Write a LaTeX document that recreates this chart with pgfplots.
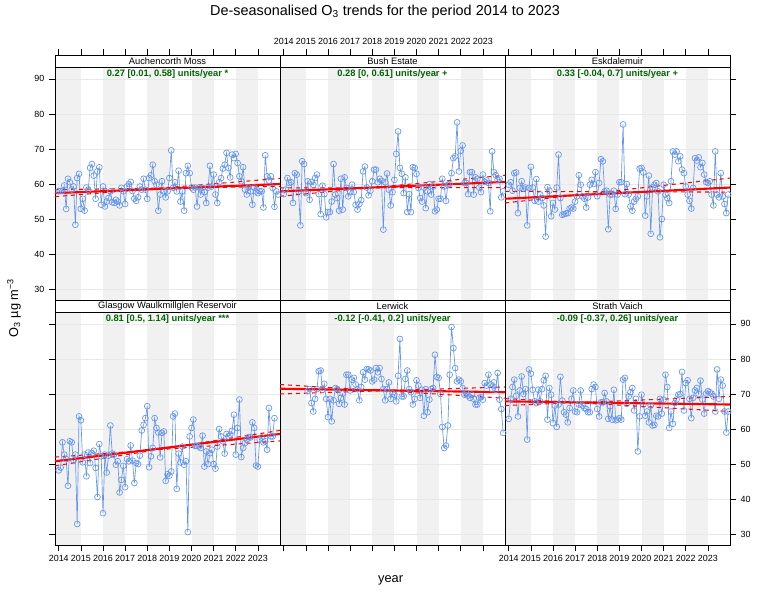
\documentclass[border=0pt]{standalone}
\usepackage{fontspec}
\setmainfont{Liberation Sans}
\usepackage{pgfplots}
\pgfplotsset{compat=1.18}
\usepackage{pgfplotstable}

\definecolor{cfblue}{RGB}{100,149,237}
\definecolor{dgreen}{RGB}{0,100,0}

% monthly de-seasonalised O3, m = months since Jan 2014
\pgfplotstableread{
m am be ek gw lw sv
0 58.0 57.1 59.8 48.2 nan 62.9
1 58.0 58.4 60.5 49.0 nan 68.6
2 58.0 61.7 58.1 56.2 nan 72.0
3 59.6 60.3 63.1 52.7 nan 74.1
4 52.9 60.5 63.3 51.4 nan 69.5
5 61.5 54.6 51.7 43.8 nan 63.6
6 60.5 63.1 58.9 56.5 nan 71.0
7 58.4 62.7 60.8 56.2 nan 75.0
8 59.3 57.9 58.7 51.0 nan 70.0
9 48.4 48.2 59.0 52.7 nan 71.4
10 61.7 66.5 48.2 32.9 nan 57.0
11 62.9 65.7 58.9 63.6 nan 77.0
12 52.9 57.4 64.9 62.5 nan 75.8
13 55.8 60.8 59.0 50.5 70.8 71.2
14 52.4 55.5 55.2 52.7 71.4 67.9
15 59.0 60.6 61.4 46.5 67.4 67.4
16 58.4 59.8 55.0 53.3 65.0 71.2
17 64.6 61.7 57.0 50.3 68.6 67.9
18 65.7 62.7 56.0 53.1 71.4 71.4
19 62.4 57.1 53.9 53.8 76.5 73.9
20 55.8 51.4 45.0 48.9 76.7 75.2
21 63.6 59.5 59.1 40.6 71.2 62.7
22 64.8 57.1 58.1 55.7 72.9 71.7
23 54.1 50.5 50.8 52.2 68.6 69.8
24 59.3 52.0 54.6 36.0 63.4 61.7
25 53.6 52.0 52.7 52.7 68.6 66.7
26 55.0 55.0 59.0 47.6 62.2 60.6
27 56.0 65.7 68.4 52.4 68.2 67.0
28 57.9 57.0 56.0 61.0 71.7 74.9
29 54.8 56.0 51.2 53.0 71.4 68.1
30 54.6 52.4 51.4 52.7 67.2 64.8
31 55.5 61.5 51.6 49.8 68.9 64.1
32 55.0 52.7 51.7 50.8 70.1 61.9
33 53.9 61.9 53.0 41.9 67.0 66.0
34 58.9 58.9 53.3 45.5 75.5 68.6
35 57.9 56.5 53.0 49.5 75.5 71.0
36 54.3 57.7 55.0 43.4 71.0 65.0
37 59.3 59.8 56.5 51.4 74.1 64.8
38 60.0 57.7 62.5 50.8 74.6 67.0
39 60.6 54.1 59.8 55.3 72.7 71.0
40 58.0 52.7 56.5 51.0 71.4 66.7
41 55.8 54.3 55.8 44.6 68.2 66.0
42 55.2 55.4 53.3 50.3 72.0 65.7
43 56.2 63.6 56.2 50.0 76.2 64.8
44 59.3 65.0 59.8 52.4 74.1 64.8
45 58.4 59.0 61.2 59.6 77.1 71.4
46 61.5 56.8 60.0 61.2 77.0 72.7
47 58.4 58.1 63.4 63.1 76.7 72.0
48 55.8 60.8 56.5 66.5 73.6 65.7
49 61.7 64.1 60.3 49.1 74.1 63.6
50 62.5 64.1 67.1 52.2 77.4 67.6
51 65.5 60.5 66.5 54.6 76.2 67.6
52 60.8 61.5 57.9 63.1 77.4 70.3
53 59.8 60.9 58.1 60.3 74.3 67.9
54 52.4 47.0 47.1 59.0 71.4 62.9
55 57.0 60.5 57.0 51.9 68.2 66.5
56 60.8 63.0 57.0 58.9 71.4 62.7
57 57.9 58.4 58.1 59.3 73.3 71.2
58 56.2 53.9 52.9 45.2 68.6 62.5
59 57.9 57.7 57.0 47.1 70.1 62.7
60 61.7 61.2 60.5 46.7 69.8 63.1
61 69.6 68.6 60.5 47.9 67.9 62.7
62 58.9 75.0 77.0 63.6 75.2 74.1
63 60.5 64.6 57.1 64.4 85.7 74.6
64 57.9 62.9 60.0 42.9 69.3 67.2
65 63.8 57.4 57.0 53.0 69.3 69.3
66 55.0 61.9 53.6 50.5 74.3 70.5
67 57.9 52.0 52.4 55.0 76.7 71.7
68 52.4 57.1 55.0 49.8 71.4 65.3
69 63.1 52.0 55.8 50.8 70.5 68.6
70 65.2 64.8 56.5 30.6 67.0 53.6
71 63.1 64.6 64.4 57.9 68.6 63.6
72 59.0 62.9 64.6 60.3 73.9 69.8
73 58.4 58.9 63.3 62.7 72.4 67.0
74 59.0 56.0 51.0 55.2 68.9 63.8
75 53.6 55.0 56.5 55.2 71.2 65.0
76 59.0 59.0 62.4 55.0 63.8 61.9
77 57.0 53.1 45.8 54.6 71.4 66.7
78 58.9 57.9 59.0 58.1 64.8 61.0
79 57.7 60.0 59.8 49.3 68.4 61.2
80 54.6 57.0 60.3 53.6 71.4 63.8
81 59.0 59.3 57.9 50.0 71.7 63.6
82 65.2 52.2 44.8 53.1 81.2 68.6
83 59.3 52.7 50.0 54.1 74.9 64.4
84 62.7 55.8 59.8 50.0 74.6 68.4
85 57.0 55.8 57.0 48.7 70.0 75.5
86 54.6 61.5 56.0 55.0 60.6 72.0
87 60.5 59.3 54.6 60.0 54.6 60.3
88 61.7 55.2 60.8 57.9 55.3 65.0
89 64.4 59.8 69.3 56.5 61.0 61.5
90 65.5 60.0 68.4 53.0 75.5 67.4
91 68.9 63.1 69.3 58.6 89.1 68.4
92 64.6 67.4 66.5 57.9 83.1 69.8
93 61.9 67.9 67.9 58.4 77.4 70.0
94 68.4 77.6 64.1 59.5 73.6 76.3
95 67.4 63.6 63.1 64.1 74.1 65.3
96 68.6 69.5 59.3 52.7 73.6 73.1
97 66.0 71.0 57.0 60.3 71.7 73.9
98 62.2 60.3 55.2 68.4 69.8 68.6
99 60.8 60.3 53.0 52.0 70.3 63.1
100 64.8 57.1 58.9 54.6 69.5 68.9
101 58.4 63.4 67.4 56.0 68.9 71.0
102 57.0 63.4 66.7 57.0 69.8 71.7
103 59.0 57.0 67.6 57.7 68.6 70.0
104 57.9 61.9 64.8 57.6 67.0 73.8
105 54.1 61.5 66.0 61.9 67.0 68.4
106 59.0 59.0 62.7 60.3 68.9 64.4
107 57.9 57.7 60.6 49.6 69.1 70.1
108 57.4 62.7 60.3 49.3 68.4 70.8
109 57.9 60.6 60.8 57.0 73.1 70.5
110 57.9 61.0 57.0 57.6 72.4 70.1
111 53.3 60.3 53.9 56.2 75.5 69.3
112 68.2 52.2 69.3 56.5 72.7 65.0
113 62.2 69.3 57.0 54.1 71.4 77.0
114 61.0 63.4 56.2 66.0 73.3 68.6
115 62.2 62.5 63.1 57.9 71.2 74.1
116 58.9 61.2 56.5 57.9 76.0 72.4
117 53.5 61.5 54.3 63.1 68.4 65.0
118 57.9 56.2 51.7 nan 65.7 59.0
119 57.0 57.9 57.0 nan 58.9 65.0
}\sitedata

\pgfplotsset{
  panel/.style={
    set layers, scale only axis, width=168.75pt, height=174.75pt,
    anchor=north west,
    xmin=2013.83, xmax=2024, ymin=26.9, ymax=93.4,
    xtick={2014,...,2023}, ytick={30,40,...,90},
    tick align=outside, major tick length=4.5pt,
    ymajorgrids, grid style={gray!18, line width=0.5pt},
    axis line style={line width=0.6pt},
    tick style={black, line width=0.5pt},
    tick label style={font=\fontsize{6.7}{8}\selectfont},
    /pgf/number format/1000 sep={},
    /pgf/number format/assume math mode=true,
    unbounded coords=jump,
  },
  toprow/.style={xtick pos=right, xticklabel pos=right,
    xtick style={yshift=9pt}, xticklabel style={yshift=9pt}},
  botrow/.style={xtick pos=left, xticklabel pos=left},
  hidex/.style={xticklabel style={opacity=0}},
  hidey/.style={yticklabel style={opacity=0}},
  midcol/.style={ytick style={draw=none}, hidey},
  band/.style={fill=gray!11, draw=none, on layer=axis background, forget plot},
  obs/.style={cfblue, line width=0.5pt, mark=o, mark size=2.2pt},
  trend/.style={red, line width=1.6pt, forget plot},
  ci/.style={red, dashed, line width=0.8pt, forget plot},
}
\tikzset{stat/.style={anchor=north, inner sep=1.5pt, text=dgreen,
    font=\bfseries\fontsize{7}{8}\selectfont}}

% alternate-year shading, kept inside the axis box
\newcommand{\yearbands}{%
  \addplot[band] coordinates {(2013.83,26.9) (2015,26.9) (2015,93.4) (2013.83,93.4)};
  \addplot[band] coordinates {(2016,26.9) (2017,26.9) (2017,93.4) (2016,93.4)};
  \addplot[band] coordinates {(2018,26.9) (2019,26.9) (2019,93.4) (2018,93.4)};
  \addplot[band] coordinates {(2020,26.9) (2021,26.9) (2021,93.4) (2020,93.4)};
  \addplot[band] coordinates {(2022,26.9) (2023,26.9) (2023,93.4) (2022,93.4)};}

\newcommand{\strip}[2]{%
  \draw[line width=0.6pt, fill=white] (#1.north west) rectangle ([yshift=9pt]#1.north east);
  \node[font=\fontsize{7}{8}\selectfont, inner sep=0pt] at ([yshift=4.5pt]#1.north) {#2};}

\begin{document}
\begin{tikzpicture}
\path (0,0) rectangle (577.5pt,450pt);

% ---- top row
\begin{axis}[panel, toprow, hidex, at={(41.25pt,399.75pt)}, name=p1, ytick pos=left]
\yearbands
\addplot[obs] table[x expr=2014+\thisrow{m}/12, y=am] {\sitedata};
\addplot[ci] coordinates {(2013.83,56.4) (2024,61.6)};
\addplot[ci] coordinates {(2013.83,58.4) (2024,59.3)};
\addplot[trend] coordinates {(2013.83,57.4) (2024,60.0)};
\node[stat] at (rel axis cs:0.5,1) {0.27 [0.01, 0.58] units/year *};
\end{axis}
\strip{p1}{Auchencorth Moss}

\begin{axis}[panel, toprow, midcol, at={(210pt,399.75pt)}, name=p2]
\yearbands
\addplot[obs] table[x expr=2014+\thisrow{m}/12, y=be] {\sitedata};
\addplot[ci] coordinates {(2013.83,56.5) (2024,62.5)};
\addplot[ci] coordinates {(2013.83,58.9) (2024,59.0)};
\addplot[trend] coordinates {(2013.83,57.9) (2024,60.6)};
\node[stat] at (rel axis cs:0.5,1) {0.28 [0, 0.61] units/year +};
\end{axis}
\strip{p2}{Bush Estate}

\begin{axis}[panel, toprow, hidex, hidey, at={(378.75pt,399.75pt)}, name=p3, ytick pos=right]
\yearbands
\addplot[obs] table[x expr=2014+\thisrow{m}/12, y=ek] {\sitedata};
\addplot[ci] coordinates {(2013.83,54.6) (2024,61.7)};
\addplot[ci] coordinates {(2013.83,57.9) (2024,57.7)};
\addplot[trend] coordinates {(2013.83,55.8) (2024,59.0)};
\node[stat] at (rel axis cs:0.5,1) {0.33 [-0.04, 0.7] units/year +};
\end{axis}
\strip{p3}{Eskdalemuir}

% ---- bottom row
\begin{axis}[panel, botrow, hidey, at={(41.25pt,216pt)}, name=p4, ytick pos=left]
\yearbands
\addplot[obs] table[x expr=2014+\thisrow{m}/12, y=gw] {\sitedata};
\addplot[ci] coordinates {(2013.83,49.5) (2024,59.6)};
\addplot[ci] coordinates {(2013.83,52.0) (2024,56.6)};
\addplot[trend] coordinates {(2013.83,50.8) (2024,58.6)};
\node[stat] at (rel axis cs:0.5,1) {0.81 [0.5, 1.14] units/year ***};
\end{axis}
\strip{p4}{Glasgow Waulkmillglen Reservoir}

\begin{axis}[panel, botrow, midcol, hidex, at={(210pt,216pt)}, name=p5]
\yearbands
\addplot[obs] table[x expr=2014+\thisrow{m}/12, y=lw] {\sitedata};
\addplot[ci] coordinates {(2013.83,70.0) (2024,72.0)};
\addplot[ci] coordinates {(2013.83,72.7) (2024,68.8)};
\addplot[trend] coordinates {(2013.83,71.5) (2024,70.5)};
\node[stat] at (rel axis cs:0.5,1) {-0.12 [-0.41, 0.2] units/year};
\end{axis}
\strip{p5}{Lerwick}

\begin{axis}[panel, botrow, at={(378.75pt,216pt)}, name=p6, ytick pos=right, yticklabel pos=right]
\yearbands
\addplot[obs] table[x expr=2014+\thisrow{m}/12, y=sv] {\sitedata};
\addplot[ci] coordinates {(2013.83,66.7) (2024,69.3)};
\addplot[ci] coordinates {(2013.83,68.7) (2024,65.0)};
\addplot[trend] coordinates {(2013.83,67.9) (2024,67.0)};
\node[stat] at (rel axis cs:0.5,1) {-0.09 [-0.37, 0.26] units/year};
\end{axis}
\strip{p6}{Strath Vaich}

% ---- titles
\node[font=\fontsize{10.8}{13}\selectfont] at (288.75pt,441pt)
  {De-seasonalised O\textsubscript{3} trends for the period 2014 to 2023};
\node[font=\fontsize{9.6}{11}\selectfont] at (293pt,15pt) {year};
\node[rotate=90, font=\fontsize{9.6}{11}\selectfont] at (10.5pt,219pt)
  {O\textsubscript{3} µg m\textsuperscript{−3}};
\end{tikzpicture}
\end{document}
